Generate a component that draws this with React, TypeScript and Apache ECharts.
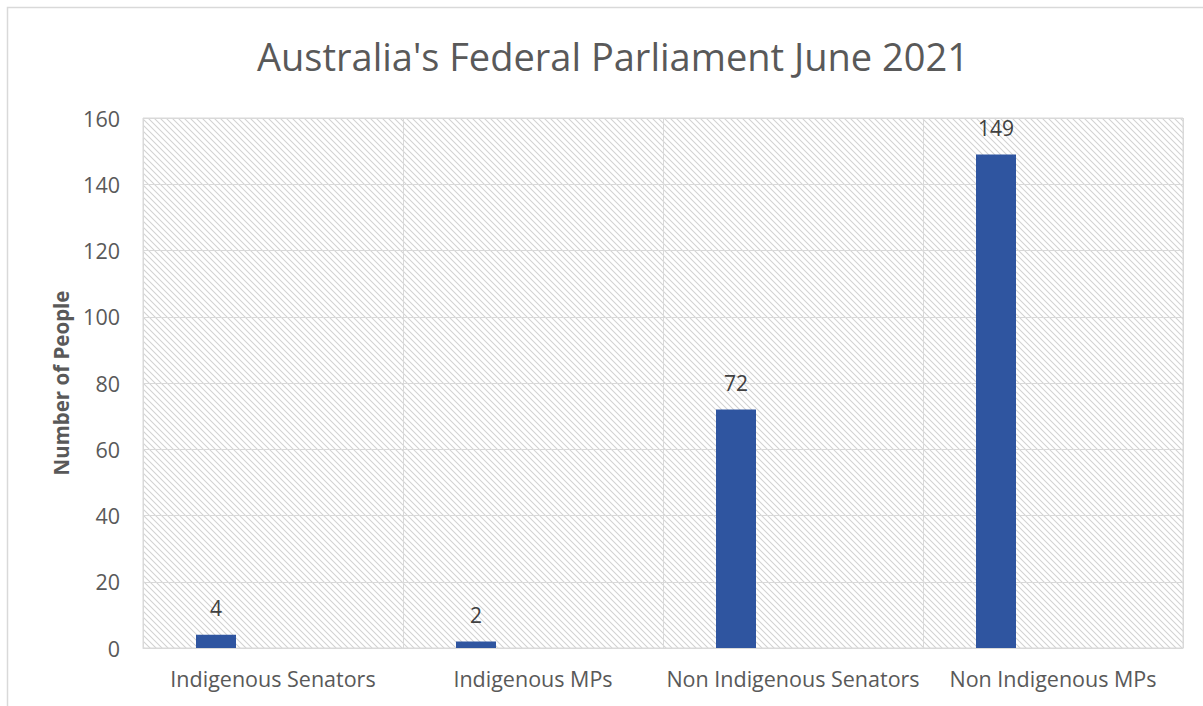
import React, { useEffect, useRef } from "react";
import * as echarts from "echarts";

const categories = ["Indigenous Senators", "Indigenous MPs", "Non Indigenous Senators", "Non Indigenous MPs"];
const peopleCounts = [4, 2, 72, 149];
const emptySeries = [null, null, null, null];

function makeHatch(): string {
  const s = 6;
  const c = document.createElement("canvas");
  c.width = s;
  c.height = s;
  const ctx = c.getContext("2d")!;
  const img = ctx.createImageData(s, s);
  for (let y = 0; y < s; y++) {
    for (let x = 0; x < s; x++) {
      const d = (x - y + s * 2) % s;
      let v = 255;
      if (d === 0) v = 212;
      else if (d === 1 || d === s - 1) v = 243;
      const i = (y * s + x) * 4;
      img.data[i] = v;
      img.data[i + 1] = v;
      img.data[i + 2] = v;
      img.data[i + 3] = 255;
    }
  }
  ctx.putImageData(img, 0, 0);
  return c.toDataURL();
}

export default function App() {
  const ref = useRef<HTMLDivElement>(null);
  useEffect(() => {
    const chart = echarts.init(ref.current!, null, { renderer: "svg" });
    const hatch = makeHatch();
    const font = "'Open Sans', sans-serif";
    chart.setOption({
      animation: false,
      backgroundColor: "#ffffff",
      title: {
        text: "Australia's Federal Parliament June 2021",
        left: 252,
        top: 32,
        textStyle: { fontFamily: font, fontSize: 38, fontWeight: "normal", color: "#595959" },
      },
      graphic: [
        {
          type: "rect",
          shape: { x: 7.5, y: 7.5, width: 1220, height: 720 },
          style: { fill: "none", stroke: "#d9d9d9", lineWidth: 1.5 },
          silent: true,
        },
      ],
      grid: {
        left: 143,
        right: 20,
        top: 118,
        bottom: 58,
        show: true,
        borderColor: "#d9d9d9",
        borderWidth: 1,
        backgroundColor: { image: hatch, repeat: "repeat", imageWidth: 6, imageHeight: 6 },
      },
      xAxis: {
        type: "category",
        data: categories,
        axisLine: { show: true, lineStyle: { color: "#d9d9d9" } },
        axisTick: { show: false },
        splitLine: { show: true, interval: 0, lineStyle: { color: "#d9d9d9", width: 1 } },
        axisLabel: { interval: 0, color: "#595959", fontFamily: font, fontSize: 21.5, margin: 19 },
      },
      yAxis: {
        type: "value",
        min: 0,
        max: 160,
        interval: 20,
        name: "Number of People",
        nameLocation: "middle",
        nameGap: 72,
        nameTextStyle: { color: "#595959", fontFamily: font, fontSize: 20.5, fontWeight: "bold" },
        axisLine: { show: false },
        axisTick: { show: false },
        splitLine: { show: true, lineStyle: { color: "#d9d9d9", width: 1 } },
        axisLabel: { color: "#595959", fontFamily: font, fontSize: 21.5, margin: 23 },
      },
      series: [
        {
          type: "bar",
          data: peopleCounts,
          barWidth: 40,
          barGap: "185%",
          itemStyle: { color: "#2f55a0" },
          label: {
            show: true,
            position: "top",
            distance: 16,
            color: "#404040",
            fontFamily: font,
            fontSize: 21,
          },
        },
        {
          type: "bar",
          data: emptySeries,
          barWidth: 40,
          itemStyle: { color: "#2f55a0" },
        },
      ],
    });
    return () => chart.dispose();
  }, []);
  return <div ref={ref} style={{ width: 1203, height: 706, position: "absolute", left: 0, top: 0 }} />;
}
